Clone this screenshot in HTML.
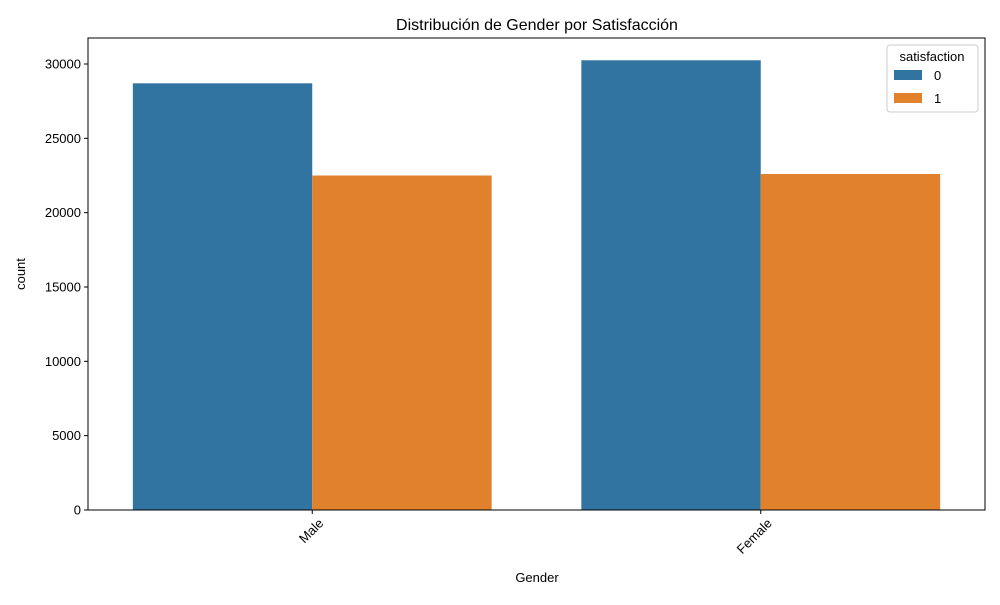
<!DOCTYPE html>
<html><head><meta charset="utf-8"><style>
body{margin:0;background:#fff;}
svg text{font-family:"Liberation Sans","DejaVu Sans",sans-serif;fill:#000;}
</style></head><body>
<svg id="chart" width="1000" height="600" viewBox="0 0 1000 600">
<rect x="0" y="0" width="1000" height="600" fill="#fff"/>
<text x="537" y="30" font-size="16" text-anchor="middle">Distribución de Gender por Satisfacción</text>
<g id="bars"></g>
<g id="yaxis"></g>
<g id="xaxis"></g>
<rect x="88" y="38" width="897" height="472" fill="none" stroke="#000" stroke-width="1"/>
<text x="537" y="582" font-size="13" text-anchor="middle">Gender</text>
<text transform="translate(25,274) rotate(-90)" font-size="13" text-anchor="middle">count</text>
<g>
<rect x="887" y="45" width="91" height="67" fill="#fff" stroke="#ccc" rx="3"/>
<text x="932" y="61" font-size="13" text-anchor="middle">satisfaction</text>
<rect x="894" y="70" width="28" height="10" fill="#3274a1"/>
<text x="934" y="80" font-size="13">0</text>
<rect x="894" y="93" width="28" height="10" fill="#e1812c"/>
<text x="934" y="103" font-size="13">1</text>
</g>
</svg>
<script>
const categories=["Male","Female"];
const series0=[28700,30250];
const series1=[22500,22600];
const yTicks=[0,5000,10000,15000,20000,25000,30000];
const NS="http://www.w3.org/2000/svg";
const L=88,R=985,T=38,B=510;
function y(v){return B-v*(446/30000);}
function x(i){return L+(i+0.5)*(R-L)/categories.length;}
const bw=(R-L)/categories.length*0.8/2;
function mk(tag,attrs,parent){const e=document.createElementNS(NS,tag);for(const k in attrs)e.setAttribute(k,attrs[k]);document.getElementById(parent).appendChild(e);return e;}
categories.forEach((c,i)=>{
  [[series0,"#3274a1",0],[series1,"#e1812c",1]].forEach(([s,col,j])=>{
    const r=mk("rect",{x:x(i)-bw+j*bw,y:y(s[i]),width:bw,height:B-y(s[i]),fill:col},"bars");
    
    
  });
  const t=mk("line",{x1:x(i),x2:x(i),y1:B,y2:B+4,stroke:"#000"},"xaxis");
  
  
  const ax=x(i)+12, ay=B+14;
  const lb=mk("text",{x:ax,y:ay,"font-size":13,"text-anchor":"end",transform:`rotate(-45 ${ax} ${ay})`},"xaxis");
  lb.textContent=c;
  
  
});
yTicks.forEach(v=>{
  const t=mk("line",{x1:L-4,x2:L,y1:y(v),y2:y(v),stroke:"#000"},"yaxis");
  
  
  const lb=mk("text",{x:L-7,y:y(v)+4.5,"font-size":13,"text-anchor":"end"},"yaxis");
  lb.textContent=v;
  
  
});
</script>
</body></html>
